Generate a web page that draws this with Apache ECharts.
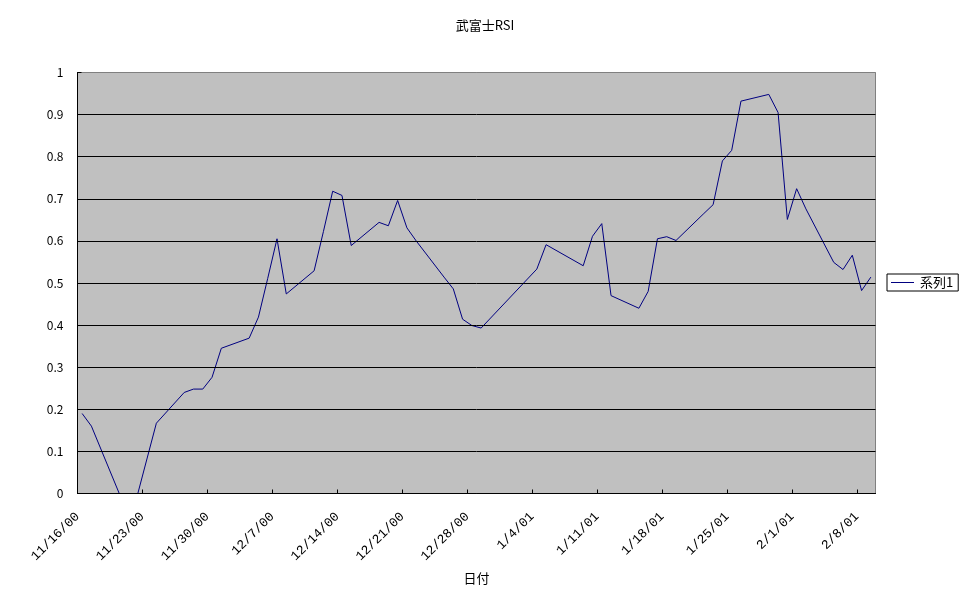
<!DOCTYPE html>
<html>
<head>
<meta charset="utf-8">
<script src="https://cdn.jsdelivr.net/npm/echarts@6/dist/echarts.min.js"></script>
<style>
html,body{margin:0;padding:0;background:#fff;}
#chart{width:970px;height:603px;}
</style>
</head>
<body>
<div id="chart"></div>
<script>
const chartTitle = '武富士RSI';
const seriesName = '系列1';
const xAxisName = '日付';
const axisStart = '2000-11-16';
const axisDays = 86;
const dates = [
  '2000-11-16','2000-11-17','2000-11-20','2000-11-21','2000-11-22','2000-11-24',
  '2000-11-27','2000-11-28','2000-11-29','2000-11-30','2000-12-01',
  '2000-12-04','2000-12-05','2000-12-06','2000-12-07','2000-12-08',
  '2000-12-11','2000-12-12','2000-12-13','2000-12-14','2000-12-15',
  '2000-12-18','2000-12-19','2000-12-20','2000-12-21','2000-12-22',
  '2000-12-25','2000-12-26','2000-12-27','2000-12-28','2000-12-29',
  '2001-01-04','2001-01-05','2001-01-09','2001-01-10','2001-01-11','2001-01-12',
  '2001-01-15','2001-01-16','2001-01-17','2001-01-18','2001-01-19',
  '2001-01-22','2001-01-23','2001-01-24','2001-01-25','2001-01-26',
  '2001-01-29','2001-01-30','2001-01-31','2001-02-01','2001-02-02',
  '2001-02-05','2001-02-06','2001-02-07','2001-02-08','2001-02-09'
];
const rsiValues = [
  0.190,0.160,0.000,0.000,0.000,0.167,
  0.240,0.248,0.248,0.276,0.345,
  0.369,0.419,0.511,0.605,0.474,
  0.529,0.622,0.718,0.708,0.589,
  0.644,0.636,0.696,0.631,0.600,
  0.514,0.486,0.414,0.399,0.393,
  0.533,0.591,0.541,0.611,0.641,0.470,
  0.440,0.480,0.605,0.610,0.601,
  0.665,0.686,0.790,0.815,0.932,
  0.948,0.905,0.651,0.724,0.676,
  0.549,0.532,0.566,0.482,0.514
];
const tickLabels = ['11/16/00','11/23/00','11/30/00','12/7/00','12/14/00','12/21/00','12/28/00','1/4/01','1/11/01','1/18/01','1/25/01','2/1/01','2/8/01'];
const tickStepDays = 7;

const DAY = 86400000;
function toUTC(s){const p=s.split('-').map(Number);return Date.UTC(p[0],p[1]-1,p[2]);}
const t0 = toUTC(axisStart);
// each date occupies a one-day slot; the point sits in the middle of its slot
const points = dates.map((d,i)=>[(toUTC(d)-t0)/DAY + 0.5, rsiValues[i]]);
const tickValues = tickLabels.map((_,i)=>i*tickStepDays);

const FONT = '"Noto Sans CJK JP", sans-serif';
const MONO = '"Liberation Mono", "DejaVu Sans Mono", monospace';
const chart = echarts.init(document.getElementById('chart'), null, {renderer:'canvas'});
chart.setOption({
  animation:false,
  backgroundColor:'#ffffff',
  textStyle:{fontFamily:FONT, color:'#000'},
  title:{
    text:chartTitle, left:'center', top:19,
    textStyle:{fontFamily:FONT,fontSize:13,fontWeight:'normal',color:'#000'},
    padding:0
  },
  grid:{
    left:77.5, top:72.5, right:94.5, bottom:109.5,
    show:true, backgroundColor:'#C0C0C0', borderColor:'#808080', borderWidth:1,
    containLabel:false
  },
  legend:{
    show:true, data:[seriesName], orient:'vertical',
    left:887, top:274, padding:[2,5,2,4], itemGap:0,
    itemWidth:23, itemHeight:14,
    borderColor:'#000', borderWidth:1, borderRadius:0, backgroundColor:'#fff',
    textStyle:{fontFamily:FONT,fontSize:13,color:'#000',padding:[0,0,0,1]},
    icon:'path://M0,0 L23,0 L23,1 L0,1 Z'
  },
  xAxis:{
    type:'value', min:0, max:axisDays, interval:tickStepDays,
    z:5,
    name:xAxisName, nameLocation:'middle', nameGap:78,
    nameTextStyle:{fontFamily:FONT,fontSize:13,color:'#000'},
    axisLine:{show:true,onZero:false,lineStyle:{color:'#000',width:1}},
    axisTick:{show:true,inside:true,length:4,lineStyle:{color:'#000'},customValues:tickValues},
    axisLabel:{
      show:true, rotate:45, margin:21, fontFamily:MONO, fontSize:13, color:'#000',
      customValues:tickValues,
      formatter:function(v){const i=Math.round(v/tickStepDays);return tickLabels[i]||'';}
    },
    splitLine:{show:false}
  },
  yAxis:{
    type:'value', min:0, max:1, interval:0.1,
    z:5,
    axisLine:{show:true,lineStyle:{color:'#000',width:1}},
    axisTick:{show:true,inside:true,length:4,lineStyle:{color:'#000'}},
    axisLabel:{
      fontFamily:FONT,fontSize:12,color:'#000',margin:14,
      formatter:function(v){return String(Math.round(v*10)/10);}
    },
    splitLine:{show:true,lineStyle:{color:['#000','#000','#000','#000','#000','#000','#000','#000','#000','#000','#808080'],width:1}}
  },
  series:[{
    name:seriesName, type:'line', data:points,
    symbol:'none', showSymbol:false, z:3,
    lineStyle:{color:'#000080',width:1},
    itemStyle:{color:'#000080'},
    clip:true
  }]
});
</script>
</body>
</html>
